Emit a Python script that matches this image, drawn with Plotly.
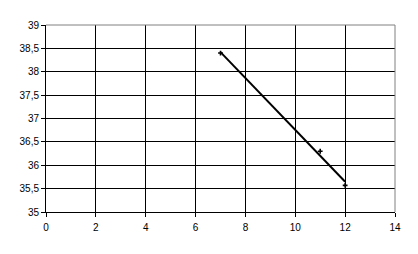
import numpy as np
import plotly.graph_objects as go

x_vals = [7, 11, 12]
y_vals = [38.4, 36.3, 35.57]

x_ticks = [0, 2, 4, 6, 8, 10, 12, 14]
y_ticks = [35, 35.5, 36, 36.5, 37, 37.5, 38, 38.5, 39]
y_ticktext = ["35", "35,5", "36", "36,5", "37", "37,5", "38", "38,5", "39"]

slope, intercept = np.polyfit(x_vals, y_vals, 1)
trend_x = [min(x_vals), max(x_vals)]
trend_y = [slope * v + intercept for v in trend_x]

fig = go.Figure()
fig.add_trace(go.Scatter(x=trend_x, y=trend_y, mode="lines",
                         line=dict(color="black", width=2), hoverinfo="skip"))
fig.add_trace(go.Scatter(x=x_vals, y=y_vals, mode="markers",
                         marker=dict(symbol="cross", size=4, color="black")))

axis_font = dict(family="Liberation Sans, Arial, sans-serif", size=10, color="black")
fig.update_layout(
    width=418, height=254,
    margin=dict(l=46, r=23, t=25, b=42),
    paper_bgcolor="white", plot_bgcolor="white",
    showlegend=False,
    font=axis_font,
    xaxis=dict(range=[0, 14], tickvals=x_ticks, ticktext=[str(v) for v in x_ticks],
               showgrid=True, gridcolor="black", gridwidth=1,
               showline=True, linecolor="black", linewidth=1,
               ticks="outside", ticklen=4, tickcolor="black",
               ticklabelstandoff=2,
               zeroline=False, tickfont=axis_font, fixedrange=True),
    yaxis=dict(range=[35, 39], tickvals=y_ticks, ticktext=y_ticktext,
               showgrid=True, gridcolor="black", gridwidth=1,
               showline=True, linecolor="black", linewidth=1,
               ticks="outside", ticklen=4, tickcolor="black",
               zeroline=False, tickfont=axis_font, fixedrange=True),
    shapes=[
        dict(type="line", xref="paper", yref="paper", x0=0, x1=1, y0=1, y1=1,
             line=dict(color="#808080", width=1)),
        dict(type="line", xref="paper", yref="paper", x0=1, x1=1, y0=0, y1=1,
             line=dict(color="#808080", width=1)),
    ],
)

fig.write_html("out.html")
